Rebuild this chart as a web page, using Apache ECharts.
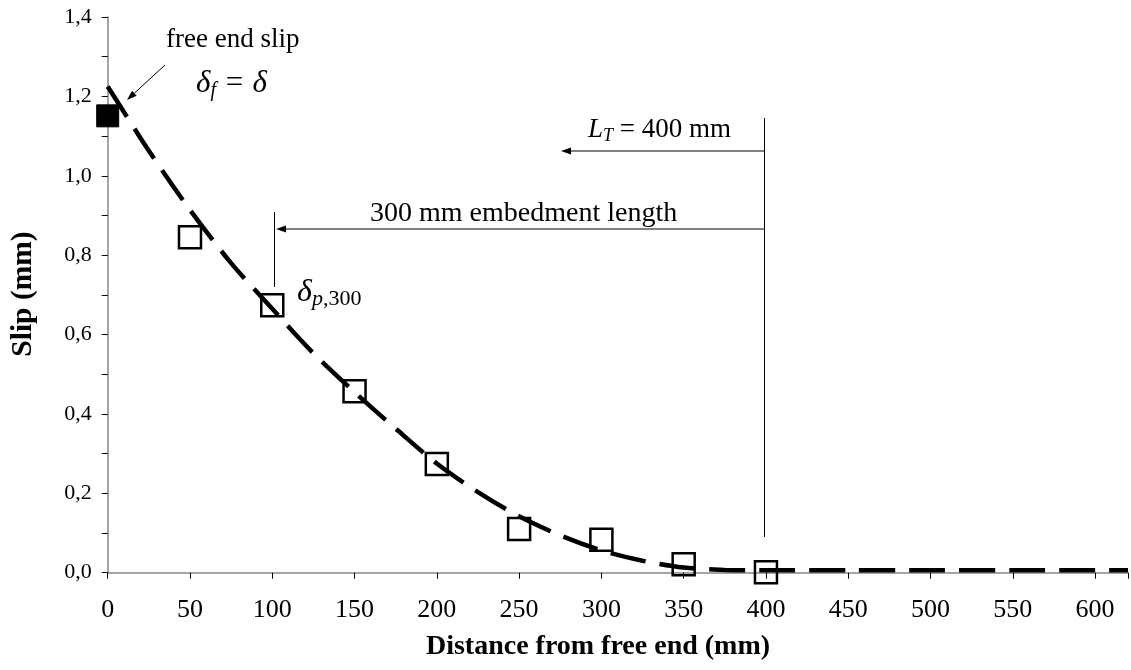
<!DOCTYPE html>
<html>
<head>
<meta charset="utf-8">
<script src="https://cdn.jsdelivr.net/npm/echarts@6/dist/echarts.min.js"></script>
<style>
  html, body { margin: 0; padding: 0; background: #fff; }
  #chart { width: 1131px; height: 670px; }
</style>
</head>
<body>
<div id="chart"></div>
<script>
  // measured slip along the bar
  var freeEndX = [0];
  var freeEndSlip = [1.151];
  var distance = [50, 100, 150, 200, 250, 300, 350, 400];
  var slip = [0.845, 0.674, 0.457, 0.274, 0.110, 0.083, 0.021, 0.001];

  // fitted curve (dashed)
  var curveX = [0, 25, 50, 75, 100, 125, 150, 175, 200, 225, 250, 275, 300, 325, 350, 375, 400, 450, 500, 550, 600, 620];
  var curveY = [1.225, 1.063, 0.914, 0.78, 0.665, 0.553, 0.455, 0.363, 0.275, 0.203, 0.142, 0.094, 0.056, 0.030, 0.013, 0.007, 0.006, 0.006, 0.006, 0.006, 0.006, 0.006];

  var xTicks = [0, 50, 100, 150, 200, 250, 300, 350, 400, 450, 500, 550, 600];
  var yTicks = [0, 0.2, 0.4, 0.6, 0.8, 1.0, 1.2, 1.4];

  var serif = '"Liberation Serif", "Times New Roman", serif';

  function pairs(xs, ys) {
    var out = [];
    for (var i = 0; i < xs.length; i++) {
      out.push([xs[i], ys[i]]);
    }
    return out;
  }

  function arrow(x1, y1, x2, y2) {
    var ang = Math.atan2(y2 - y1, x2 - x1);
    var len = 10, half = 3.5;
    var bx = x2 - len * Math.cos(ang), by = y2 - len * Math.sin(ang);
    var px = -Math.sin(ang) * half, py = Math.cos(ang) * half;
    return [
      { type: 'line', shape: { x1: x1, y1: y1, x2: bx, y2: by }, style: { stroke: '#000', lineWidth: 1 } },
      { type: 'polygon', shape: { points: [[x2, y2], [bx + px, by + py], [bx - px, by - py]] }, style: { fill: '#000' } }
    ];
  }

  function vline(x, y1, y2) {
    return { type: 'line', shape: { x1: x, y1: y1, x2: x, y2: y2 }, style: { stroke: '#000', lineWidth: 1 } };
  }

  function label(text, x, y, size, weight) {
    return {
      type: 'text',
      x: x, y: y,
      style: {
        text: text, fontSize: size, fontFamily: serif, fontWeight: weight || 'normal',
        fill: '#000', align: 'left', verticalAlign: 'middle'
      }
    };
  }

  var yTitle = label('Slip (mm)', 23, 294, 29.5, 'bold');
  yTitle.rotation = Math.PI / 2;
  yTitle.style.align = 'center';
  var xTitle = label('Distance from free end (mm)', 598, 647, 28, 'bold');
  xTitle.style.align = 'center';

  var graphics = []
    .concat(arrow(165, 65, 127, 100))
    .concat(arrow(764, 229, 276, 229))
    .concat(arrow(764, 151, 561, 151))
    .concat([
      vline(764.5, 118, 537),
      vline(274.5, 212, 287),
      label('free end slip', 166, 40, 27),
      {
        type: 'text',
        x: 196, y: 84,
        style: {
          verticalAlign: 'middle',
          text: '{d|δ}{s|f}{d| = δ}',
          rich: {
            d: { fontFamily: serif, fontStyle: 'italic', fontSize: 31, lineHeight: 34 },
            s: { fontFamily: serif, fontStyle: 'italic', fontSize: 20, lineHeight: 34, padding: [14, 0, 0, 0] }
          }
        }
      },
      label('300 mm embedment length', 370, 214, 28),
      {
        type: 'text',
        x: 588, y: 130,
        style: {
          verticalAlign: 'middle',
          text: '{d|L}{s|T}{n| = 400 mm}',
          rich: {
            d: { fontFamily: serif, fontStyle: 'italic', fontSize: 27, lineHeight: 30 },
            s: { fontFamily: serif, fontStyle: 'italic', fontSize: 18, lineHeight: 30, padding: [12, 0, 0, 0] },
            n: { fontFamily: serif, fontSize: 27, lineHeight: 30 }
          }
        }
      },
      {
        type: 'text',
        x: 297, y: 293,
        style: {
          verticalAlign: 'middle',
          text: '{d|δ}{p|p}{n|,300}',
          rich: {
            d: { fontFamily: serif, fontStyle: 'italic', fontSize: 32, lineHeight: 36 },
            p: { fontFamily: serif, fontStyle: 'italic', fontSize: 22, lineHeight: 36, padding: [12, 0, 0, 0] },
            n: { fontFamily: serif, fontSize: 22, lineHeight: 36, padding: [12, 0, 0, 0] }
          }
        }
      },
      yTitle,
      xTitle
    ]);

  var chart = echarts.init(document.getElementById('chart'));

  var option = {
    animation: false,
    backgroundColor: '#fff',
    grid: { left: 107.7, right: 0, top: 17, bottom: 97.3, containLabel: false },
    xAxis: {
      type: 'value', min: 0, max: 620, interval: 50,
      axisLine: { onZero: false, lineStyle: { color: '#868686', width: 1.5 } },
      axisTick: { length: 6, lineStyle: { color: '#000', width: 1 } },
      axisLabel: {
        margin: 24, fontSize: 26, fontFamily: serif, color: '#000',
        formatter: function(v) { return xTicks.indexOf(v) >= 0 ? String(v) : ''; }
      },
      splitLine: { show: false }
    },
    yAxis: {
      type: 'value', min: 0, max: 1.4, interval: 0.2,
      axisLine: { show: true, lineStyle: { color: '#868686', width: 1.5 } },
      axisTick: { show: true, length: 6, lineStyle: { color: '#000', width: 1 } },
      minorTick: { show: true, splitNumber: 2, length: 6, lineStyle: { color: '#000', width: 1 } },
      axisLabel: {
        margin: 16, fontSize: 22, fontFamily: serif, color: '#000',
        formatter: function(v) {
          var t = yTicks.filter(function(a) { return Math.abs(a - v) < 1e-6; });
          return t.length ? v.toFixed(1).replace('.', ',') : '';
        }
      },
      splitLine: { show: false }
    },
    series: [
      {
        type: 'line',
        data: pairs(curveX, curveY),
        smooth: 0.3,
        showSymbol: false,
        lineStyle: { color: '#000', width: 4.5, type: [36, 14] },
        z: 2
      },
      {
        type: 'scatter',
        data: pairs(distance, slip),
        symbol: 'rect',
        symbolSize: 22,
        itemStyle: { color: 'rgba(0,0,0,0)', borderColor: '#000', borderWidth: 2.5, opacity: 1 },
        z: 3
      },
      {
        type: 'scatter',
        data: pairs(freeEndX, freeEndSlip),
        symbol: 'rect',
        symbolSize: 22,
        itemStyle: { color: '#000', borderColor: '#000', borderWidth: 1, opacity: 1 },
        z: 3
      }
    ],
    graphic: graphics
  };

  chart.setOption(option);
</script>
</body>
</html>
